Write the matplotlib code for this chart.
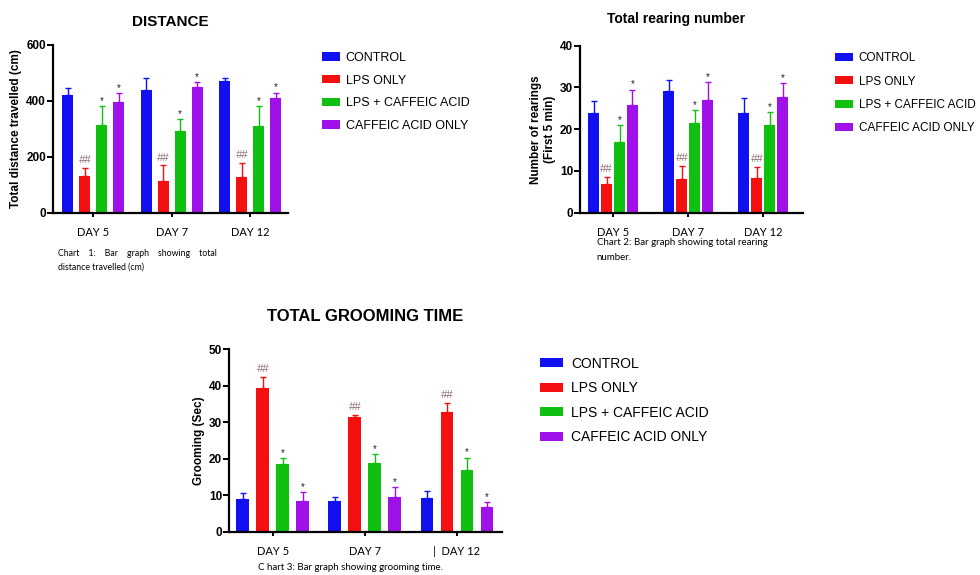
import numpy as np
import matplotlib
matplotlib.use('Agg')
import matplotlib.pyplot as plt
from matplotlib.patches import Patch

plt.rcParams['font.family'] = ['Liberation Sans', 'DejaVu Sans']

# Data
days = ['DAY 5', 'DAY 7', 'DAY 12']
groups = ['CONTROL', 'LPS ONLY', 'LPS + CAFFEIC ACID', 'CAFFEIC ACID ONLY']
colors = ['#1010f0', '#f41010', '#10c010', '#a010e8']

# distance travelled (cm): mean and upper error per group, per day
dist_mean = [[422, 440, 472], [131, 113, 127], [314, 291, 309], [398, 449, 410]]
dist_err = [[23, 41, 9], [29, 57, 51], [69, 45, 74], [30, 17, 20]]

# rearing number
rear_mean = [[23.9, 29.1, 23.9], [7.0, 8.1, 8.4], [17.0, 21.5, 21.0], [25.8, 27.1, 27.8]]
rear_err = [[2.8, 2.7, 3.5], [1.6, 3.1, 2.6], [4.0, 3.2, 3.2], [3.7, 4.3, 3.2]]

# grooming time (sec)
groom_mean = [[8.9, 8.4, 9.3], [39.2, 31.5, 32.8], [18.4, 18.9, 16.9], [8.4, 9.4, 6.8]]
groom_err = [[1.8, 1.2, 1.9], [3.2, 0.4, 2.5], [1.7, 2.3, 3.4], [2.5, 2.9, 1.4]]

# significance marks per group
marks = ['', '##', '*', '*']


def draw_panel(ax, means, errs, step, width, ylim, yticks, xlim, ylabel, title,
               title_size, xlabels, title_pad=12):
    x = np.arange(len(days))
    for i, (m, e) in enumerate(zip(means, errs)):
        pos = x + (i - 1.5) * step
        ax.bar(pos, m, width=width, color=colors[i], zorder=2)
        ax.errorbar(pos, m, yerr=[np.zeros(len(e)), e], fmt='none',
                    ecolor=colors[i], elinewidth=1.0, capsize=2.5, capthick=1.0, zorder=1)
        if marks[i]:
            for px, top in zip(pos, np.array(m) + np.array(e)):
                if marks[i] == '##':
                    ax.annotate('##', (px, top), xytext=(0, 2), textcoords='offset points',
                                ha='center', va='bottom', fontsize=8, style='italic',
                                color='#907070')
                else:
                    ax.annotate('*', (px, top), xytext=(0, 0), textcoords='offset points',
                                ha='center', va='bottom', fontsize=7, color='#202020')
    ax.set_xlim(*xlim)
    ax.set_ylim(*ylim)
    ax.set_yticks(yticks)
    ax.set_xticks(x)
    ax.set_xticklabels(xlabels, family=['Lato', 'DejaVu Sans'], fontsize=8)
    for lab in ax.get_yticklabels():
        lab.set_fontweight('bold')
        lab.set_fontsize(8.5)
    ax.spines['top'].set_visible(False)
    ax.spines['right'].set_visible(False)
    ax.spines['left'].set_linewidth(1.6)
    ax.spines['bottom'].set_linewidth(1.6)
    ax.tick_params(axis='y', length=4, width=1.4, pad=1)
    ax.tick_params(axis='x', length=3, width=1.4, pad=7)
    ax.set_ylabel(ylabel, fontweight='bold', fontsize=8.5, labelpad=3)
    ax.set_title(title, fontweight='bold', fontsize=title_size, pad=title_pad)


fig = plt.figure(figsize=(9.8, 5.75), dpi=100)

ax1 = fig.add_axes([0.0541, 0.6296, 0.2398, 0.2922])
draw_panel(ax1, dist_mean, dist_err, 0.2166, 0.14, (0, 600), [0, 200, 400, 600],
           (-0.51, 2.48), 'Total distance travelled (cm)', 'DISTANCE', 11, days, 14)

ax2 = fig.add_axes([0.5918, 0.630, 0.2276, 0.2905])
draw_panel(ax2, rear_mean, rear_err, 0.173, 0.147, (0, 40), [0, 10, 20, 30, 40],
           (-0.44, 2.53), 'Number of rearings\n(First 5 min)', 'Total rearing number', 10,
           days, 16)
ax2.title.set_x(0.43)

ax3 = fig.add_axes([0.2337, 0.0753, 0.2785, 0.3177])
draw_panel(ax3, groom_mean, groom_err, 0.217, 0.136, (0, 50), [0, 10, 20, 30, 40, 50],
           (-0.473, 2.49), 'Grooming (Sec)', 'TOTAL GROOMING TIME', 12,
           ['DAY 5', 'DAY 7', '|  DAY 12'], 20)

handles = [Patch(facecolor=c, edgecolor='none') for c in colors]


def add_legend(x, y, fs, hl, pad, spacing):
    fig.legend(handles, groups, loc='upper left', bbox_to_anchor=(x, y),
               frameon=False, fontsize=fs, handlelength=hl, handleheight=0.65,
               handletextpad=pad, labelspacing=spacing, borderpad=0, borderaxespad=0)


add_legend(0.3286, 0.910, 9, 1.45, 0.45, 0.86)
add_legend(0.852, 0.909, 8.5, 1.55, 0.45, 0.95)
add_legend(0.551, 0.380, 10, 1.65, 0.6, 0.76)

# captions
cap_font = ['Lato', 'DejaVu Sans']
fig.text(0.059, 0.559, 'Chart    1:    Bar    graph    showing    total', fontsize=6.3,
         family=cap_font, va='center')
fig.text(0.059, 0.535, 'distance travelled (cm)', fontsize=6.3, family=cap_font, va='center')
fig.text(0.609, 0.578, 'Chart 2: Bar graph showing total rearing', fontsize=7,
         family=cap_font, va='center')
fig.text(0.609, 0.553, 'number.', fontsize=7, family=cap_font, va='center')
fig.text(0.358, 0.013, 'C hart 3: Bar graph showing grooming time.', fontsize=7,
         family=cap_font, va='center', ha='center')

fig.savefig('out.png', dpi=100)
